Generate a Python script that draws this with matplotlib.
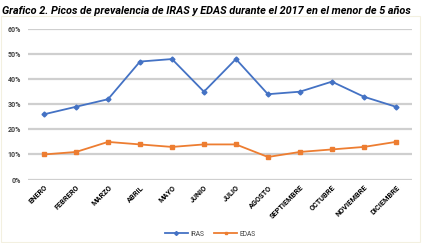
import matplotlib
matplotlib.use("Agg")
import matplotlib.pyplot as plt
from matplotlib.ticker import PercentFormatter
from matplotlib.patches import Rectangle

months = ["ENERO", "FEBRERO", "MARZO", "ABRIL", "MAYO", "JUNIO", "JULIO",
          "AGOSTO", "SEPTIEMBRE", "OCTUBRE", "NOVIEMBRE", "DICIEMBRE"]
iras = [26, 29, 32, 47, 48, 35, 48, 34, 35, 39, 33, 29]
edas = [10, 11, 15, 14, 13, 14, 14, 9, 11, 12, 13, 15]
yticks = [0, 10, 20, 30, 40, 50, 60]
title = "Grafico 2. Picos de prevalencia de IRAS y EDAS durante el 2017 en el menor de 5 años"

fam = ["Liberation Sans Narrow", "Roboto", "DejaVu Sans"]

fig = plt.figure(figsize=(4.25, 2.43), dpi=100)
fig.patch.set_facecolor("white")
fig.patches.append(Rectangle((0.003, 0.004), 0.985, 0.93, transform=fig.transFigure,
                             fill=False, edgecolor="#f3f0e0", linewidth=0.8))

ax = fig.add_axes([0.066, 0.261, 0.903, 0.620])
x = list(range(len(months)))
ax.plot(x, iras, color="#4472c4", marker="D", markersize=2.5, linewidth=1.3, label="IRAS")
ax.plot(x, edas, color="#ed7d31", marker="s", markersize=2.5, linewidth=1.3, label="EDAS")

ax.set_xlim(-0.5, len(months) - 0.5)
ax.set_ylim(0, 60)
ax.set_yticks(yticks)
ax.yaxis.set_major_formatter(PercentFormatter(decimals=0))
ax.grid(axis="y", color="#cfcfcf", linewidth=1.6)
ax.set_axisbelow(True)
for s in ax.spines.values():
    s.set_visible(False)
ax.tick_params(axis="both", length=0)
ax.tick_params(axis="y", pad=5)
ax.set_xticks(x)
ax.set_xticklabels(months, rotation=45, ha="right", rotation_mode="anchor",
                   fontsize=5.3, fontweight="bold", family=fam)
for lbl in ax.get_yticklabels():
    lbl.set_fontsize(5)
    lbl.set_family(fam)
    lbl.set_fontweight("bold")
    lbl.set_color("#404040")
ax.tick_params(axis="x", pad=3)

fig.text(0.005, 0.955, title, fontsize=7.8, fontweight="bold", fontstyle="italic",
         family=fam, ha="left", va="center")

leg = fig.legend(loc="center", bbox_to_anchor=(0.495, 0.037), ncol=2, frameon=False,
                 prop={"family": fam, "size": 4.8}, handlelength=3.4, columnspacing=1.5,
                 handletextpad=0.4, markerscale=0.8)
for t in leg.get_texts():
    t.set_color("#404040")

fig.savefig("out.png", dpi=100)
